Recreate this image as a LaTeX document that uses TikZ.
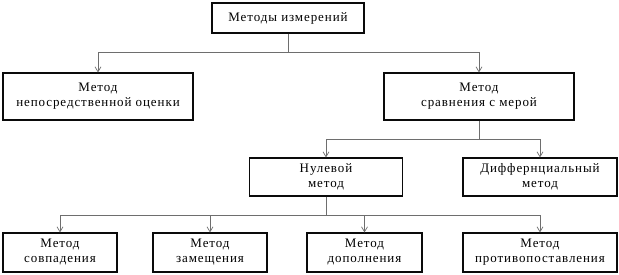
\documentclass[tikz,border=0pt]{standalone}
\usepackage{fontspec}
\setmainfont{Liberation Serif}[LetterSpace=7]
\usepackage{tikz}
\usetikzlibrary{
  arrows.meta
}
\usepackage{xcolor}
\definecolor{boxline}{RGB}{10, 10, 10}
\definecolor{connclr}{RGB}{110, 110, 110}
\tikzset{
  % Bloklar
  blok/.style     = {draw=boxline, line width=1.1pt, fill=white, inner sep=0pt,
                     align=center, font=\fontsize{13}{15}\selectfont},
  blokTop/.style  = {blok, minimum width=152pt, minimum height=30pt},
  blokA/.style    = {blok, minimum width=190pt, minimum height=47pt},
  blokB/.style    = {blok, minimum width=153pt, minimum height=38pt},
  blokC/.style    = {blok, minimum width=114pt, minimum height=39pt},
  % Bog'lovchi chiziqlar
  conn/.style     = {draw=connclr, line width=0.7pt},
  connarr/.style  = {conn, -{Straight Barb[length=5pt, width=6pt]}},
}

\begin{document}
\begin{tikzpicture}[x=1pt, y=-1pt]
  \useasboundingbox (0,0) rectangle (619,275);
  % Yuqori daraja
  \node[blokTop] (metody) at (288,18) {Методы измерений};
  % Ikkinchi daraja
  \node[blokA] (neposr) at (98,96.5) {Метод\\непосредственной оценки};
  \node[blokA] (sravn) at (479,96.5) {Метод\\сравнения с мерой};
  % Uchinchi daraja
  \node[blokB] (nulev) at (326,177) {Нулевой\\метод};
  \node[blokB, minimum width=154pt] (diff) at (540,177) {Диффернциальный\\метод};
  % Pastki daraja
  \node[blokC] (sovp) at (60,252.5) {Метод\\совпадения};
  \node[blokC] (zamesh) at (210,252.5) {Метод\\замещения};
  \node[blokC, minimum width=115pt] (dopoln) at (364.5,252.5) {Метод\\дополнения};
  \node[blokC, minimum width=154pt] (protiv) at (540,252.5) {Метод\\противопоставления};
  % Tugunlar
  \coordinate (j1) at (288,52);
  \coordinate (j2) at (479,139);
  \coordinate (j3) at (326,215);
  % Bog'lanishlar
  \draw[conn] (metody.south) -- (j1);
  \draw[connarr] (j1) -| (neposr.north);
  \draw[connarr] (j1) -| (sravn.north);
  \draw[conn] (sravn.south) -- (j2);
  \draw[connarr] (j2) -| (nulev.north);
  \draw[connarr] (j2) -| (diff.north);
  \draw[conn] (nulev.south) -- (j3);
  \draw[connarr] (j3) -| (sovp.north);
  \draw[connarr] (j3) -| (zamesh.north);
  \draw[connarr] (j3) -| (dopoln.north);
  \draw[connarr] (j3) -| (protiv.north);
\end{tikzpicture}
\end{document}
